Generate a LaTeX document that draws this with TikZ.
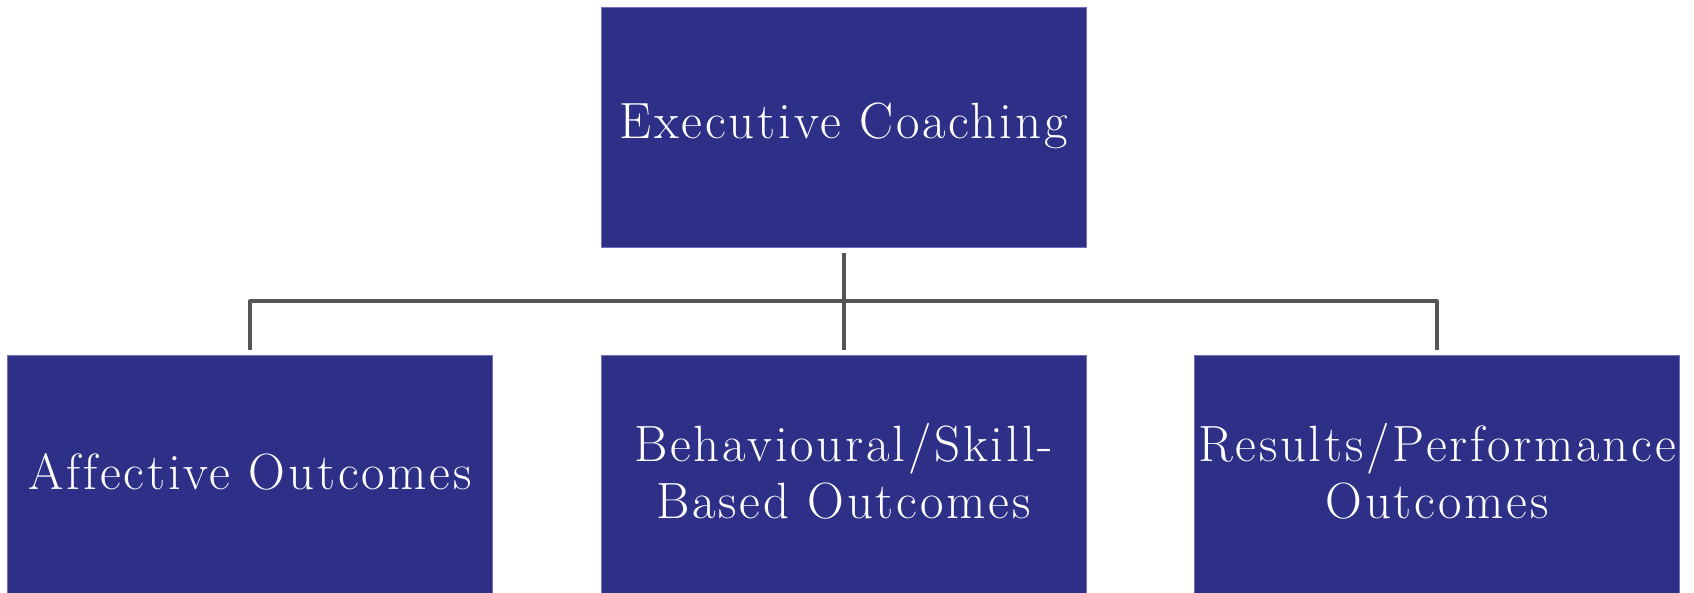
\documentclass[tikz,border=0pt]{standalone}
\usepackage{fontspec}
% light optical size of Latin Modern, slightly tracked out
\newfontfamily\boxfont{lmroman17-regular.otf}[LetterSpace=5.5, Ligatures=CommonOff]
\begin{document}
\begin{tikzpicture}[x=1pt,y=1pt,
  orgbox/.style={rectangle, fill={rgb,255:red,46;green,48;blue,136},
    draw={rgb,255:red,110;green,112;blue,186}, line width=0.8pt,
    minimum width=485pt, minimum height=240pt, inner sep=0pt},
  boxtext/.style={text=white, align=center, inner sep=0pt,
    font=\boxfont\fontsize{51}{57}\selectfont},
  conn/.style={draw={rgb,255:red,85;green,85;blue,85}, line width=4pt,
    line join=round}]
  \useasboundingbox (0,0) rectangle (1694,-593);
  \begin{scope}
    \clip (0,0) rectangle (1694,-593);
    % root of the chart
    \node[orgbox] (exec) at (843.5,-127) {};
    % the three outcome categories
    \node[orgbox] (aff) at (250,-475.5) {};
    \node[orgbox] (beh) at (843.5,-475.5) {};
    \node[orgbox] (res) at (1437,-475.5) {};
  \end{scope}
  % captions
  \node[boxtext] (execT) at ([yshift=1pt]exec.center) {Executive Coaching};
  \node[boxtext] (affT) at ([yshift=4pt]aff.center) {Affective Outcomes};
  \node[boxtext] (behT) at ([yshift=4pt]beh.center) {Behavioural/Skill-\\Based Outcomes};
  \node[boxtext] (resT) at ([yshift=4pt]res.center) {Results/Performance\\Outcomes};
  % connectors: trunk plus horizontal bus
  \coordinate (bus) at (843.5,-301.5);
  \draw[conn] ([yshift=-6pt]exec.south) -- ([yshift=5.5pt]beh.north);
  \draw[conn] ([yshift=5.5pt]aff.north) -- (aff.north |- bus)
    -- (res.north |- bus) -- ([yshift=5.5pt]res.north);
\end{tikzpicture}
\end{document}
